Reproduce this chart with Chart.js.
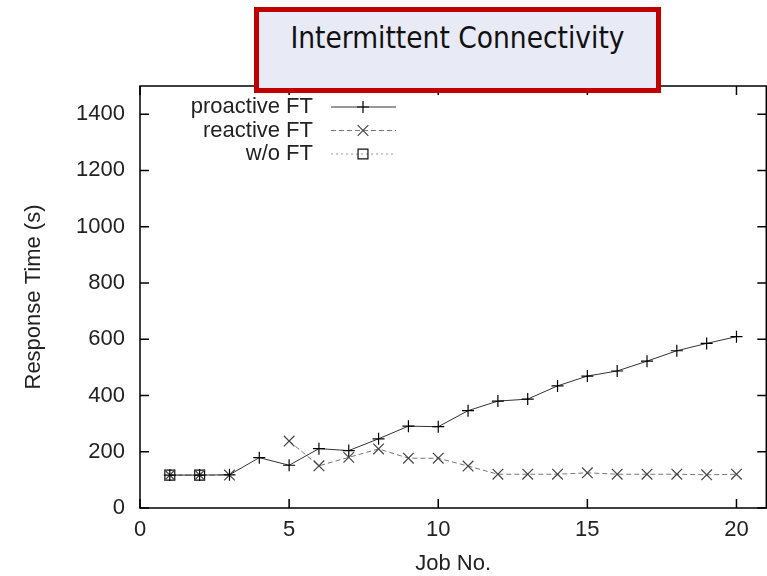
<!DOCTYPE html>
<html><head><meta charset="utf-8">
<script src="https://cdn.jsdelivr.net/npm/chart.js@4"></script>
<style>
html,body{margin:0;padding:0;background:#fff;overflow:hidden;}
#wrap{position:relative;width:767px;height:576px;overflow:hidden;}
#c{display:block;}
#titlebox{position:absolute;left:254px;top:7px;width:407px;height:86px;box-sizing:border-box;border:5px solid #C00000;background:#E8EAF6;font-family:"DejaVu Sans Condensed","DejaVu Sans",sans-serif;font-stretch:condensed;font-size:29.5px;line-height:1;text-align:center;color:#111;padding-top:12px;white-space:nowrap;}
</style></head>
<body>
<div id="wrap">
<canvas id="c" width="775" height="576"></canvas>
<div id="titlebox">Intermittent Connectivity</div>
</div>
<script>
const jobs = [1,2,3,4,5,6,7,8,9,10,11,12,13,14,15,16,17,18,19,20];
const proactiveFT = [117,117,118,179,152,211,204,246,291,289,346,380,387,434,469,487,522,559,585,609];
const reactiveFT = [117,117,117,null,238,150,180,210,177,177,149,120,120,120,125,120,120,120,118,120];
const withoutFTJobs = [1,2];
const withoutFT = [117,117];
const xTicks = [0,5,10,15,20];
const yTicks = [0,200,400,600,800,1000,1200,1400];
const xMax = 21;
const yMax = 1500;

const FONT = 'Liberation Sans, Arial, sans-serif';

const framePlugin = {
  id: 'frame',
  afterDraw(chart) {
    const {ctx, chartArea: a, scales} = chart;
    ctx.save();
    ctx.strokeStyle = '#000';
    ctx.lineWidth = 1.5;
    ctx.setLineDash([]);
    ctx.strokeRect(a.left, a.top, a.right - a.left, a.bottom - a.top);
    const tl = 9;
    ctx.beginPath();
    xTicks.forEach(v => {
      const px = scales.x.getPixelForValue(v);
      ctx.moveTo(px, a.bottom); ctx.lineTo(px, a.bottom - tl);
      ctx.moveTo(px, a.top); ctx.lineTo(px, a.top + tl);
    });
    yTicks.forEach(v => {
      const py = scales.y.getPixelForValue(v);
      ctx.moveTo(a.left, py); ctx.lineTo(a.left + tl, py);
      ctx.moveTo(a.right, py); ctx.lineTo(a.right - tl, py);
    });
    ctx.stroke();
    // legend
    ctx.font = '22px ' + FONT;
    ctx.textAlign = 'right';
    ctx.textBaseline = 'middle';
    chart.data.datasets.forEach((ds, i) => {
      const y = 107 + i * 23.5;
      ctx.fillStyle = '#222';
      ctx.fillText(ds.label, 313, y);
      ctx.save();
      ctx.strokeStyle = ds.borderColor;
      ctx.lineWidth = ds.borderWidth;
      ctx.setLineDash(ds.borderDash || []);
      ctx.beginPath();
      ctx.moveTo(331, y); ctx.lineTo(396, y);
      ctx.stroke();
      ctx.setLineDash([]);
      ctx.strokeStyle = ds.pointBorderColor;
      ctx.fillStyle = 'rgba(0,0,0,0)';
      ctx.lineWidth = ds.pointBorderWidth;
      Chart.helpers.drawPoint(ctx, {pointStyle: ds.pointStyle, radius: ds.pointRadius, borderWidth: ds.pointBorderWidth, rotation: 0}, 363, y);
      ctx.restore();
    });
    ctx.restore();
  }
};

new Chart(document.getElementById('c'), {
  type: 'line',
  data: {
    datasets: [
      {
        label: 'proactive FT',
        data: jobs.map((j, i) => ({x: j, y: proactiveFT[i]})),
        borderColor: '#333', borderWidth: 1,
        pointStyle: 'cross', pointRadius: 6, pointBorderColor: '#000', pointBorderWidth: 1.2,
        pointBackgroundColor: 'rgba(0,0,0,0)', fill: false, tension: 0
      },
      {
        label: 'reactive FT',
        data: jobs.map((j, i) => ({x: j, y: reactiveFT[i]})),
        borderColor: '#777', borderWidth: 1, borderDash: [5, 3],
        pointStyle: 'crossRot', pointRadius: 7.5, pointBorderColor: '#444', pointBorderWidth: 1.2,
        pointBackgroundColor: 'rgba(0,0,0,0)', fill: false, tension: 0
      },
      {
        label: 'w/o FT',
        data: withoutFTJobs.map((j, i) => ({x: j, y: withoutFT[i]})),
        borderColor: '#999', borderWidth: 1, borderDash: [2, 3],
        pointStyle: 'rect', pointRadius: 7, pointBorderColor: '#111', pointBorderWidth: 1.2,
        pointBackgroundColor: 'rgba(0,0,0,0)', fill: false, tension: 0
      }
    ]
  },
  options: {
    responsive: false, animation: false, spanGaps: false,
    layout: {padding: {left: 0, top: 86, right: 0, bottom: 0}},
    plugins: {legend: {display: false}, tooltip: {enabled: false}, title: {display: false}},
    scales: {
      x: {
        type: 'linear', min: 0, max: xMax,
        afterBuildTicks: s => { s.ticks = xTicks.concat([xMax]).map(v => ({value: v})); },
        afterFit: s => { s.height = 68; },
        grid: {display: false, drawTicks: false}, border: {display: false},
        ticks: {font: {family: FONT, size: 22, lineHeight: 2}, color: '#222', padding: 0, maxRotation: 0,
                callback: v => xTicks.includes(v) ? String(v) : ''},
        title: {display: true, text: 'Job No.', font: {family: FONT, size: 22, lineHeight: 1}, color: '#222', padding: {top: 0, bottom: 1}}
      },
      y: {
        type: 'linear', min: 0, max: yMax,
        afterBuildTicks: s => { s.ticks = yTicks.map(v => ({value: v})); },
        afterFit: s => { s.width = 140; },
        grid: {display: false, drawTicks: false}, border: {display: false},
        ticks: {font: {family: FONT, size: 22}, color: '#222', padding: 15, callback: v => String(v)},
        title: {display: true, text: 'Response Time (s)', font: {family: FONT, size: 22}, color: '#222', padding: {top: 21, bottom: 0}}
      }
    }
  },
  plugins: [framePlugin]
});
</script>
</body></html>
